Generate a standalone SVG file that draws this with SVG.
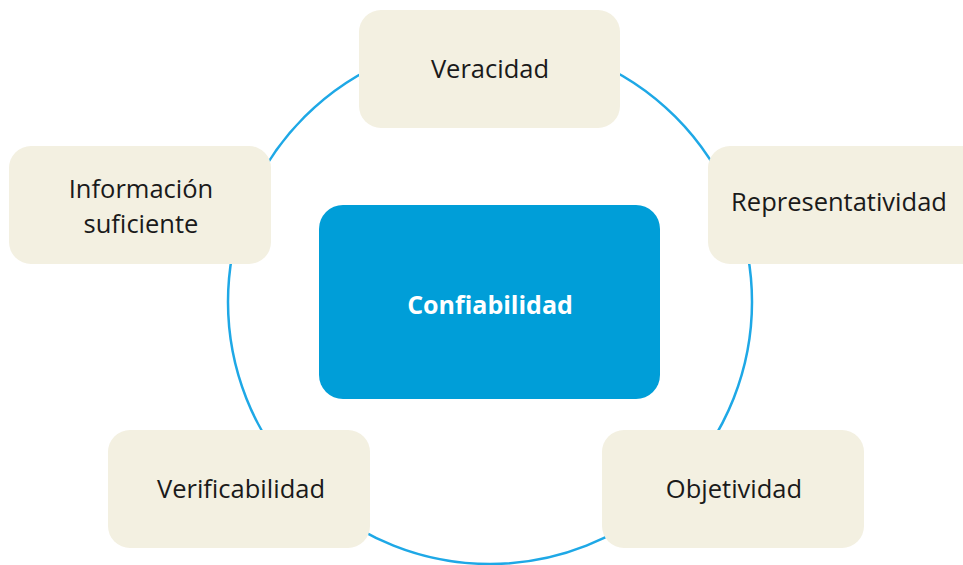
<svg xmlns="http://www.w3.org/2000/svg" width="963" height="565" viewBox="0 0 963 565">
<style>
.box{fill:#f3f0e1}
.lbl{font-family:"Open Sans","Liberation Sans",sans-serif;font-size:25.5px;fill:#1a1a1a;text-anchor:middle}
.ctr{font-family:"Open Sans","Liberation Sans",sans-serif;font-size:25px;font-weight:bold;fill:#ffffff;text-anchor:middle}
</style>
<rect width="963" height="565" fill="#ffffff"/>
<g id="connectors">
<circle cx="490" cy="302" r="262" fill="none" stroke="#1ea8e6" stroke-width="2.5"/>
</g>
<g id="confiabilidad">
<rect x="319" y="205" width="341" height="194" rx="24" fill="#009ed8"/>
<text class="ctr" x="490" y="314">Confiabilidad</text>
</g>
<g id="veracidad">
<rect class="box" x="359" y="10" width="261" height="118" rx="22"/>
<text class="lbl" x="490" y="78">Veracidad</text>
</g>
<g id="representatividad">
<rect class="box" x="708" y="146" width="275" height="118" rx="22"/>
<text class="lbl" x="839" y="211">Representatividad</text>
</g>
<g id="informacion">
<rect class="box" x="9" y="146" width="262" height="118" rx="22"/>
<text class="lbl" x="141" y="198">Información</text>
<text class="lbl" x="141" y="233">suficiente</text>
</g>
<g id="verificabilidad">
<rect class="box" x="108" y="430" width="262" height="118" rx="22"/>
<text class="lbl" x="241" y="498">Verificabilidad</text>
</g>
<g id="objetividad">
<rect class="box" x="602" y="430" width="262" height="118" rx="22"/>
<text class="lbl" x="734" y="498">Objetividad</text>
</g>
</svg>
